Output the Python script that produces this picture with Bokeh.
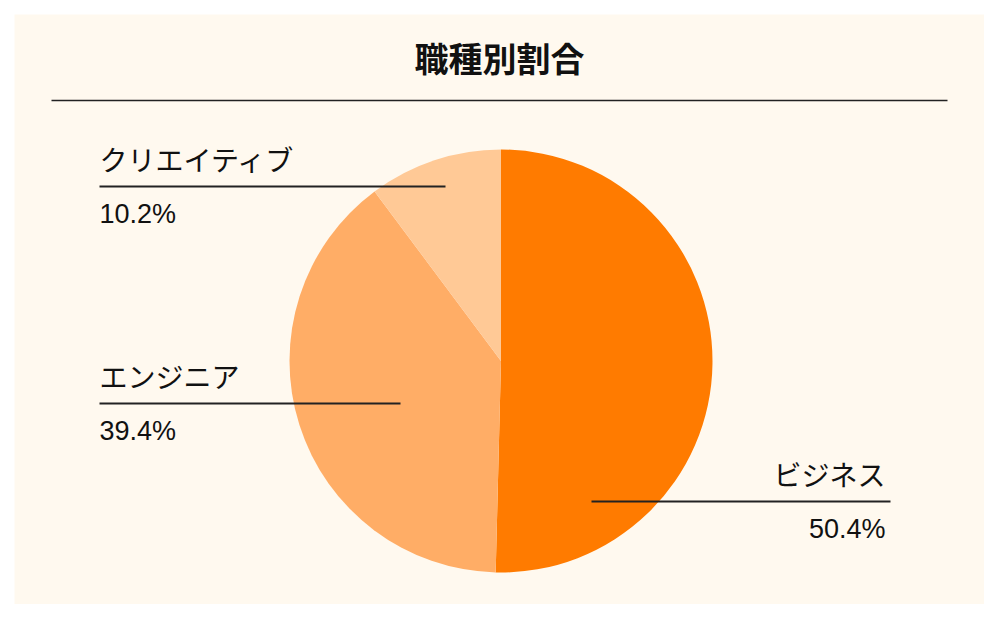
import math
from bokeh.plotting import figure
from bokeh.models import Range1d, ColumnDataSource
from bokeh.core.properties import value
from bokeh.embed import file_html
from bokeh.resources import INLINE

# ---- data ----
title_text = "職種別割合"
categories = ["ビジネス", "エンジニア", "クリエイティブ"]
shares = [50.4, 39.4, 10.2]
slice_colors = ["#FF7B00", "#FFAD66", "#FFC996"]

# ---- layout (page-like coordinates, y measured from bottom of 620px page) ----
H = 620
cx, cy, R = 501.5, H - 361.5, 211.5
# per-label: line start x, line end x, line y, text anchor x, align
label_layout = [
    (592, 891, H - 502, 886, "right"),
    (100, 401, H - 404, 100, "left"),
    (100, 446, H - 187, 100, "left"),
]

BG = "#FFF9EF"
INK = "#111111"
JP = "Noto Sans CJK JP"

p = figure(width=984, height=604, output_backend="svg", toolbar_location=None,
           x_range=Range1d(1, 985), y_range=Range1d(H - 605, H - 1),
           x_axis_location=None, y_axis_location=None, min_border=0,
           background_fill_color="white", border_fill_color="white",
           outline_line_color=None)
p.xgrid.visible = False
p.ygrid.visible = False

# cream panel
p.quad(left=[15], right=[985], bottom=[H - 605], top=[H - 15], fill_color=BG, line_color=None)

# wedges, clockwise from 12 o'clock
total = sum(shares)
starts, ends = [], []
acc = 0.0
for s in shares:
    starts.append(math.pi / 2 - 2 * math.pi * acc / total)
    acc += s
    ends.append(math.pi / 2 - 2 * math.pi * acc / total)
src = ColumnDataSource(dict(x=[cx] * len(shares), y=[cy] * len(shares),
                            start=starts, end=ends, color=slice_colors,
                            cat=categories, share=shares))
p.wedge(x="x", y="y", radius=R, start_angle="start", end_angle="end",
        direction="clock", fill_color="color", line_color=None, source=src)

# title and rule
p.text(x=[500], y=[H - 57.5], text=[title_text], text_font=value(JP),
       text_font_size="34px", text_font_style="bold", text_color=INK,
       text_align="center", text_baseline="middle")
p.segment(x0=[52], y0=[H - 101], x1=[948], y1=[H - 101], line_color="#222222", line_width=1.5)

# labels with leader lines
for cat, sh, (x0, x1, ly, tx, al) in zip(categories, shares, label_layout):
    p.segment(x0=[x0], y0=[ly], x1=[x1], y1=[ly], line_color="#222222", line_width=1.8)
    p.text(x=[tx], y=[ly + 28], text=[cat], text_font=value(JP), text_font_size="28px",
           text_color=INK, text_align=al, text_baseline="middle")
    p.text(x=[tx], y=[ly - 27], text=[f"{sh:.1f}%"], text_font=value("Liberation Sans"),
           text_font_size="27px", text_color=INK, text_align=al, text_baseline="middle")

open("out.html", "w").write(file_html(p, INLINE))
